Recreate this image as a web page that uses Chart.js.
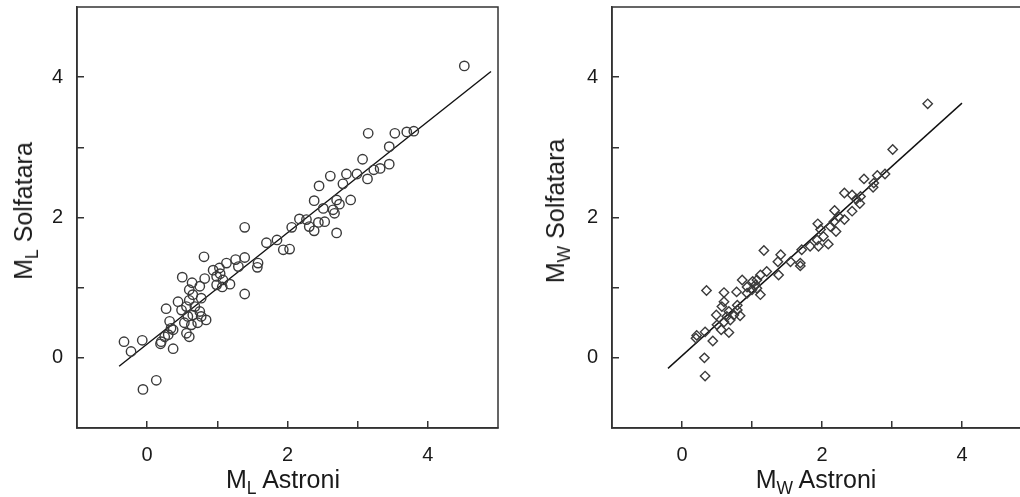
<!DOCTYPE html>
<html>
<head>
<meta charset="utf-8">
<script src="https://cdn.jsdelivr.net/npm/chart.js@4.4.1/dist/chart.umd.min.js"></script>
<style>
  html, body { margin: 0; padding: 0; background: #fff; }
  body { width: 1020px; height: 497px; overflow: hidden; position: relative;
         font-family: "Liberation Sans", Arial, sans-serif; color: #1a1a1a; }
  .wrap { position: absolute; top: 0; height: 497px; }
  .title { position: absolute; font-size: 25px; line-height: 25px; white-space: nowrap; }
  .title .sub { font-size: 0.7em; position: relative; top: 0.32em; }
  .ytitle { transform: translate(-50%, -50%) rotate(-90deg); }
  .xtitle { transform: translateX(-50%); }
</style>
</head>
<body>
<div class="wrap" style="left:0;width:505px"><canvas id="left"></canvas></div>
<div class="wrap" style="left:515px;width:525px"><canvas id="right"></canvas></div>

<div class="title ytitle" style="left:25px;top:211px">M<span class="sub">L</span> Solfatara</div>
<div class="title xtitle" style="left:283px;top:467px">M<span class="sub">L</span> Astroni</div>
<div class="title ytitle" style="left:557px;top:211px">M<span class="sub">W</span> Solfatara</div>
<div class="title xtitle" style="left:816px;top:467px">M<span class="sub">W</span> Astroni</div>

<script>
// local magnitude, Astroni vs Solfatara
const mlAstroni = [4.52, 3.15, 3.53, 3.70, 3.80, 3.45, 3.07, 3.45, 3.32, 3.23, 3.14, 2.99, 2.84, 2.61,
  2.45, 2.79, 2.38, 2.90, 2.70, 2.51, 2.74, 2.65, 2.67, 2.17, 2.27, 2.31, 2.44, 2.53, 2.38, 2.70,
  2.06, 1.39, 1.70, 1.85, 1.94, 2.03, 0.81, 1.26, 1.39, 1.58, 1.57, 1.13, 1.03, 0.94, 1.04, 1.30,
  0.99, 0.50, 0.82, 1.08, 0.99, 1.18, 1.07, 0.64, 0.75, 1.39, 0.60, 0.65, 0.77, 0.60, 0.44, 0.27,
  0.56, 0.68, 0.49, 0.75, 0.65, 0.58, 0.77, 0.32, 0.53, 0.72, 0.84, 0.63, 0.34, 0.30, 0.25, 0.20,
  0.19, 0.37, 0.60, -0.07, -0.33, -0.23, 0.13, -0.06, 0.37, 0.56];
const mlSolfatara = [4.16, 3.20, 3.20, 3.22, 3.23, 3.01, 2.83, 2.76, 2.70, 2.68, 2.55, 2.62, 2.62, 2.59,
  2.45, 2.48, 2.24, 2.25, 2.25, 2.13, 2.19, 2.11, 2.06, 1.98, 1.97, 1.87, 1.93, 1.94, 1.81, 1.78,
  1.86, 1.86, 1.64, 1.68, 1.54, 1.55, 1.44, 1.40, 1.43, 1.35, 1.29, 1.35, 1.28, 1.25, 1.20, 1.30,
  1.16, 1.15, 1.13, 1.11, 1.04, 1.05, 1.01, 1.07, 1.02, 0.91, 0.97, 0.90, 0.85, 0.82, 0.80, 0.70,
  0.73, 0.73, 0.68, 0.66, 0.61, 0.59, 0.59, 0.52, 0.50, 0.50, 0.54, 0.47, 0.42, 0.33, 0.30, 0.23,
  0.20, 0.13, 0.30, 0.25, 0.23, 0.09, -0.32, -0.45, 0.40, 0.35];
const mlFitX = [-0.4, 4.9];
const mlFitY = [-0.12, 4.08];

// moment magnitude, Astroni vs Solfatara
const mwAstroni = [3.51, 3.01, 2.90, 2.79, 2.73, 2.74, 2.60, 2.32, 2.43, 2.55, 2.49, 2.54, 2.43, 2.18,
  2.24, 2.32, 2.17, 2.20, 2.12, 1.94, 1.98, 2.02, 2.09, 1.93, 1.95, 1.83, 1.71, 1.17, 1.41, 1.37,
  1.55, 1.69, 1.69, 1.38, 1.21, 1.12, 1.07, 1.01, 0.86, 0.93, 1.12, 1.07, 0.35, 0.60, 0.78, 0.60,
  0.57, 0.67, 0.79, 0.49, 0.64, 0.83, 0.60, 0.50, 0.67, 0.44, 0.33, 0.21, 0.20, 0.32, 0.33, 0.74,
  0.69, 0.56, 0.79, 0.93, 1.00, 1.05];
const mwSolfatara = [3.62, 2.97, 2.62, 2.60, 2.43, 2.49, 2.55, 2.35, 2.32, 2.30, 2.26, 2.20, 2.09, 2.10,
  2.01, 1.97, 1.94, 1.80, 1.87, 1.91, 1.83, 1.73, 1.62, 1.68, 1.59, 1.59, 1.54, 1.53, 1.47, 1.37,
  1.37, 1.35, 1.31, 1.18, 1.23, 1.18, 1.11, 1.09, 1.11, 1.01, 0.90, 0.99, 0.96, 0.93, 0.94, 0.80,
  0.73, 0.66, 0.68, 0.61, 0.59, 0.60, 0.51, 0.47, 0.36, 0.24, 0.37, 0.32, 0.28, 0.00, -0.26, 0.61,
  0.54, 0.40, 0.75, 0.92, 0.97, 1.04];
const mwFitX = [-0.2, 4.0];
const mwFitY = [-0.15, 3.63];

const tickLabels = { 0: "0", 2: "2", 4: "4" };

const ink = "#1a1a1a";
const markColor = "#3a3a3a";

// axes only draw left and bottom, close the box on top and right
const boxPlugin = {
  id: "box",
  afterDraw(chart) {
    const a = chart.chartArea;
    const ctx = chart.ctx;
    ctx.save();
    ctx.strokeStyle = "#333";
    ctx.lineWidth = 1.5;
    ctx.strokeRect(a.left, a.top, a.right - a.left, a.bottom - a.top);
    ctx.restore();
  },
};

function pairs(xs, ys) {
  return xs.map((x, i) => ({ x: x, y: ys[i] }));
}

function makeAxis(isY, size) {
  return {
    type: "linear",
    min: -1,
    max: 5,
    ticks: {
      stepSize: 1,
      color: ink,
      padding: isY ? 21 : 22,
      font: { family: "Liberation Sans", size: 20 },
      // end ticks sit on the frame, minor ticks get no label
      callback: (v) => (v === -1 || v === 5 ? null : tickLabels[v] || ""),
    },
    grid: {
      drawOnChartArea: false,
      drawTicks: true,
      tickLength: -7,
      color: "#333",
      lineWidth: 1.5,
    },
    border: { display: true, color: "#333", width: 1.5 },
    afterFit: (scale) => {
      if (isY) scale.width = size;
      else scale.height = size;
      scale.paddingTop = 0;
      scale.paddingBottom = 0;
      scale.paddingLeft = 0;
      scale.paddingRight = 0;
    },
  };
}

function makeChart(id, xs, ys, fitX, fitY, style, yAxisWidth, padRight) {
  return new Chart(document.getElementById(id), {
    type: "scatter",
    plugins: [boxPlugin],
    data: {
      datasets: [
        {
          data: pairs(xs, ys),
          pointStyle: style,
          pointRadius: 4.7,
          pointBorderWidth: 1.4,
          borderColor: markColor,
          backgroundColor: "rgba(0,0,0,0)",
        },
        {
          data: pairs(fitX, fitY),
          showLine: true,
          borderColor: "#111",
          borderWidth: 1.4,
          pointRadius: 0,
        },
      ],
    },
    options: {
      responsive: true,
      maintainAspectRatio: false,
      animation: false,
      layout: { padding: { top: 7, right: padRight, bottom: 0, left: 0 } },
      plugins: { legend: { display: false }, tooltip: { enabled: false } },
      scales: {
        x: makeAxis(false, 69),
        y: makeAxis(true, yAxisWidth),
      },
    },
  });
}

makeChart("left", mlAstroni, mlSolfatara, mlFitX, mlFitY, "circle", 77, 7);
makeChart("right", mwAstroni, mwSolfatara, mwFitX, mwFitY, "rectRot", 97, 8);
</script>
</body>
</html>
